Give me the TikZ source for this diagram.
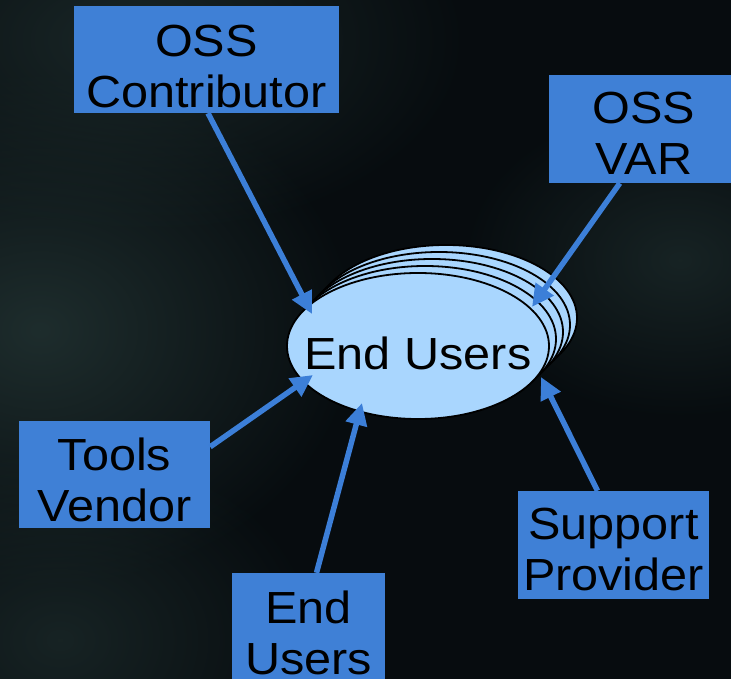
\documentclass[tikz,border=0pt]{standalone}
\usepackage{fontspec}
\setmainfont{Liberation Sans}[FakeStretch=1.08]
\usetikzlibrary{arrows.meta,calc,shapes.geometric,fadings}
\definecolor{boxblue}{HTML}{3F80D6}
\definecolor{arrowblue}{HTML}{3C7FD8}
\definecolor{ellfill}{HTML}{A9D6FE}
\definecolor{bgbase}{HTML}{070C0F}
\definecolor{bgglow}{HTML}{1E2D2D}
\tikzfading[name=softglow, inner color=transparent!0, outer color=transparent!100]
\tikzset{
  boxnode/.style={fill=boxblue, draw=none, inner sep=0pt},
  txt/.style={text=black, inner sep=0pt, align=center, font=\fontsize{45pt}{51pt}\selectfont},
  stackell/.style={fill=ellfill, draw=black, line width=1.8pt},
  arr/.style={draw=arrowblue, line width=5.5pt, -{Triangle[length=22pt,width=21pt]}},
  glow/.style={fill=bgglow, path fading=softglow, fit fading=true}
}
\begin{document}
\begin{tikzpicture}[x=1pt,y=-1pt]
\useasboundingbox (0,0) rectangle (731,679);
\clip (0,0) rectangle (731,679);
% background
\fill[bgbase] (0,0) rectangle (731,679);
\fill[glow] (40,330) ellipse [x radius=320pt, y radius=260pt];
\fill[glow, opacity=0.8] (130,40) ellipse [x radius=340pt, y radius=200pt];
\fill[glow, opacity=0.7] (680,260) ellipse [x radius=220pt, y radius=160pt];
\fill[glow, opacity=0.7] (60,640) ellipse [x radius=260pt, y radius=200pt];
% stacked ellipses behind
\foreach \k in {4,3,2,1}
  \draw[stackell] (418+7*\k, 346-7*\k) ellipse [x radius=131pt, y radius=73pt];
% front ellipse
\node[ellipse, stackell, minimum width=262pt, minimum height=146pt, inner sep=0pt] (eu) at (418,346) {};
\node[txt, anchor=base] (eut) at (418,369) {End Users};
% boxes
\node[boxnode, minimum width=265pt, minimum height=107pt] (oc) at (206.5,59.5) {};
\node[txt, anchor=north] (oct) at (206.5,24.5) {OSS\\Contributor};
\node[boxnode, minimum width=190pt, minimum height=108pt] (var) at (644,129) {};
\node[txt, anchor=north] (vart) at (644,91.5) {OSS\\VAR};
\node[boxnode, minimum width=191pt, minimum height=107pt] (tv) at (114.5,474.5) {};
\node[txt, anchor=north] (tvt) at (114.5,437.5) {Tools\\Vendor};
\node[boxnode, minimum width=191pt, minimum height=108pt] (sp) at (613.5,545) {};
\node[txt, anchor=north] (spt) at (613.5,507.5) {Support\\Provider};
\node[boxnode, minimum width=153pt, minimum height=117pt] (eub) at (308.5,631.5) {};
\node[txt, anchor=north] (eubt) at (308.5,590.5) {End\\Users};
% arrow tips on the ellipse
\coordinate (t1) at ($(eu.center)+(-106,-32)$);
\coordinate (t2) at ($(eu.center)+(114,-39)$);
\coordinate (t3) at ($(eu.center)+(-105,29)$);
\coordinate (t4) at ($(eu.center)+(-56,57)$);
\coordinate (t5) at ($(eu.center)+(123,31)$);
% connectors
\draw[arr] ($(oc.south)+(1.5,0)$) -- (t1);
\draw[arr] ($(var.south west)+(71,0)$) -- (t2);
\draw[arr] ($(tv.north east)+(0,26)$) -- (t3);
\draw[arr] ($(eub.north)+(8,0)$) -- (t4);
\draw[arr] ($(sp.north)+(-16,0)$) -- (t5);
\end{tikzpicture}
\end{document}
